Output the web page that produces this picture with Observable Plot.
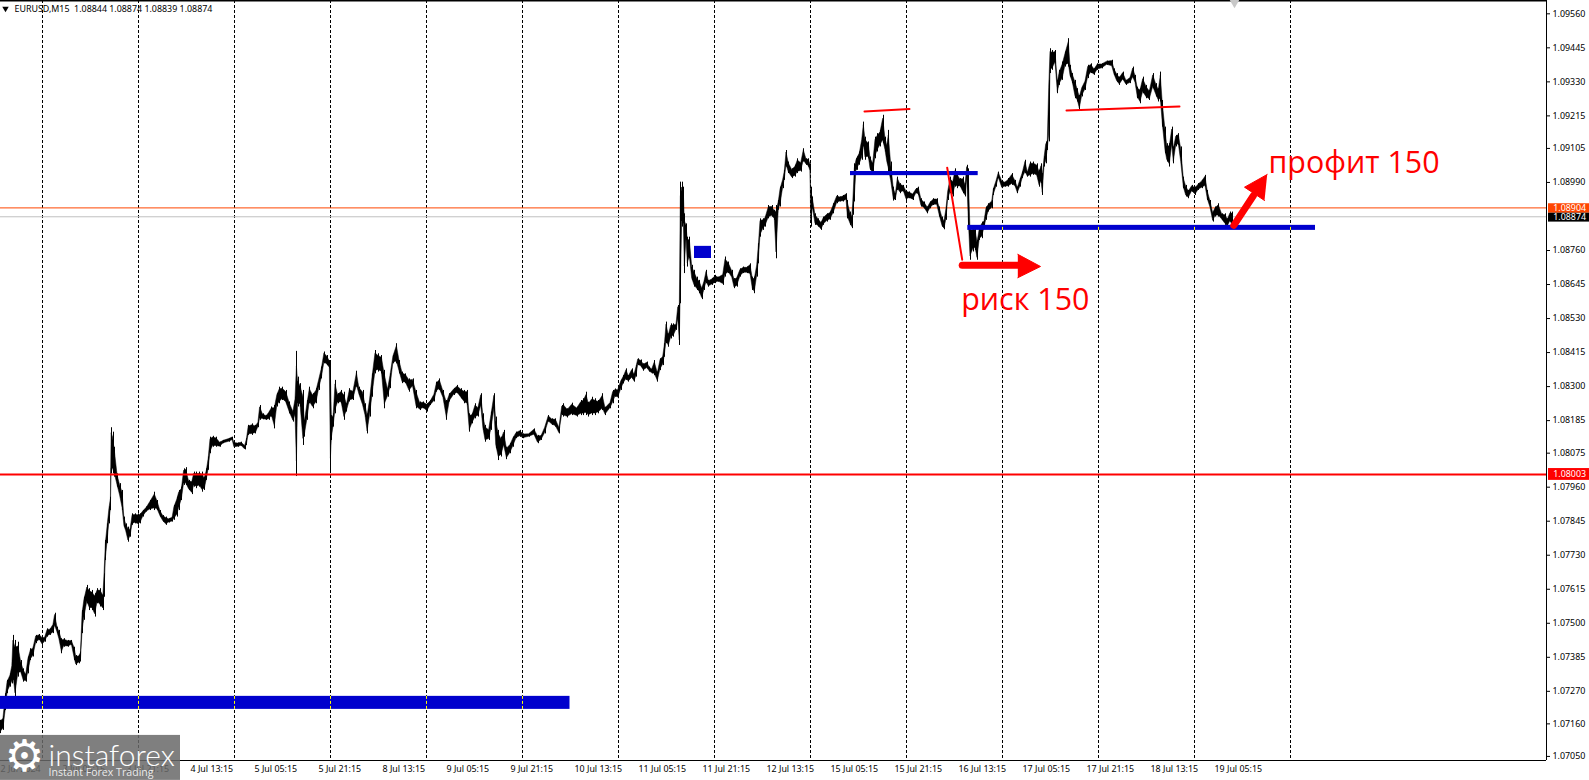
<!DOCTYPE html>
<html><head><meta charset="utf-8">
<style>html,body{margin:0;padding:0;background:#fff;overflow:hidden}svg{display:block}</style>
<script src="https://cdn.jsdelivr.net/npm/d3@7"></script>
<script src="https://cdn.jsdelivr.net/npm/@observablehq/plot@0.6"></script>
</head><body>
<div id="chart"></div>
<script>
// Price envelope, 15-minute bars counted from the left edge; prices in 1e-5 units
const bars1=[0,2.9,5.4,7.1,10,11.8,12.9,15,17.9,20.7,23.2,25.7,27.9,30.4,32.9,35.7,39.3,42.1,44.6,47.1,50,52.9,54.6,57.1,58.9,61.4,63.6,67.9,71.4,74.3,75.7,78.6,80.4,82.1,83.9,86.8,89.3,92.1,94.6,97.1,100,102.9,103.9,105.4,107.1,108.9,110.4,111.1,112.5,114.3,117.1,119.6,122.1,123.9,125.7,127.9,130,132.1,135,137.5,140,142.9,146.4,150,154.3,157.1,160,162.9,165.7,168.6,172.1,173.9,176.8,178.6,181.4,183.6,185.7,188.6,191.8,193.6,196.4,199.3,201.8,204.3,206.4,208.2,210,212.5,216.1,219.6,223.2,228.6,232.1,233.9,237.5,241.1,244.6,246.4,248.2,251.8,255.4,257.9,259.6,262.5,266.1,268.6,271.4,274.3,276.8,279.3,282.1,285.7,289.3,292.9,295,296.4,297.5,300,302.9,304.3,307.1,309.3,312.5,316.1,318.6,321.4,323.9,326.8,329.3,330.4,331.4,333.2,335,337.5,341.1,343.9,346.4,349.3,352.9,356.4,358.9,362.5,365,367.1,369.6,372.1,375,377.9,381.4,384.3,387.5,390,392.9,396.4,399.3,402.1,405.4,408.9,412.5,416.1,419.6,423.2,426.8,430.4,433.9,436.4,439.3,442.9,446.4,449.3,453.6,457.1,460.7,464.3,467.1,469.3,472.1,475,477.9,480.7,482.9,485,488.6,491.1,493.9,495.7,498.2,501.1,503.6,506.4,510,512.9,516.1,519.6,523.2,528.6,533.9,537.5,541.1,544.6,548.2,551.8,555.4,558.9];
const highs1=[107172,107183,107262,107307,107329,107363,107459,107442,107436,107374,107346,107329,107386,107414,107419,107459,107462,107453,107453,107481,107481,107498,107534,107487,107476,107448,107448,107442,107442,107419,107391,107391,107403,107543,107588,107628,107617,107611,107600,107617,107617,107600,107667,107780,107836,107893,107926,108161,108146,108095,108005,107972,107949,107859,107836,107825,107819,107870,107870,107870,107870,107881,107893,107915,107943,107915,107881,107864,107859,107853,107859,107898,107926,107949,107960,108022,108026,107983,107983,108011,108011,108011,108011,107994,108022,108062,108129,108132,108129,108112,108118,108124,108129,108112,108109,108112,108101,108124,108169,108174,108169,108180,108236,108208,108202,108214,108231,108236,108276,108298,108298,108287,108248,108219,108264,108419,108332,108310,108287,108186,108253,108298,108276,108293,108326,108366,108417,108405,108388,108388,108202,108208,108321,108276,108287,108281,108242,108293,108287,108352,108298,108287,108242,108208,108264,108343,108422,108411,108405,108355,108293,108343,108405,108445,108388,108349,108343,108326,108326,108287,108248,108248,108242,108253,108276,108315,108326,108287,108253,108276,108293,108304,108293,108287,108287,108208,108208,108242,108231,108276,108208,108169,108157,108214,108276,108197,108152,108129,108152,108095,108107,108129,108146,108152,108140,108140,108157,108135,108135,108163,108202,108191,108191,108163];
const lows1=[107127,107138,107205,107262,107284,107295,107307,107239,107318,107329,107301,107301,107329,107374,107386,107431,107442,107425,107436,107453,107459,107465,107487,107465,107442,107397,107419,107419,107425,107374,107357,107363,107369,107465,107510,107566,107543,107543,107521,107566,107555,107543,107588,107712,107769,107836,107881,108005,108005,107994,107960,107926,107881,107825,107808,107774,107791,107831,107836,107831,107836,107859,107876,107881,107881,107881,107859,107842,107831,107839,107842,107848,107859,107881,107915,107966,107966,107949,107935,107960,107955,107960,107943,107949,107983,108017,108073,108095,108095,108095,108107,108112,108118,108093,108095,108098,108086,108101,108135,108135,108140,108161,108186,108188,108186,108186,108197,108157,108231,108242,108253,108242,108208,108180,108197,107996,108231,108231,108101,108129,108186,108242,108225,108242,108287,108326,108377,108371,108360,108011,108118,108163,108208,108242,108242,108186,108214,108248,108253,108298,108270,108231,108197,108140,108197,108264,108343,108349,108343,108225,108264,108293,108377,108377,108343,108310,108310,108281,108298,108225,108219,108225,108214,108236,108248,108281,108287,108259,108186,108248,108270,108276,108259,108242,108236,108146,108174,108191,108197,108231,108152,108112,108118,108152,108219,108090,108050,108062,108095,108053,108073,108095,108124,108129,108124,108129,108135,108107,108118,108140,108180,108169,108163,108140];

const bars2=[561.7,563.3,567.3,571.7,576.7,580.7,583.3,586,588.3,591.7,595,598.3,602.3,605,610,612.7,615,617.7,620.7,623.3,626,628.3,631.7,634,636,637.7,640.7,643.3,646.7,649.3,651.7,654.3,657.3,660,662.7,664.3,666,668.3,670.7,673.3,676,677.7,679.3];
const highs2=[108236,108242,108225,108244,108230,108253,108259,108281,108247,108264,108259,108253,108276,108230,108247,108287,108292,108292,108321,108337,108360,108337,108360,108343,108371,108394,108390,108377,108383,108366,108360,108388,108349,108394,108405,108445,108518,108478,108512,108512,108512,108574,108580];
const lows2=[108202,108197,108194,108202,108197,108202,108202,108202,108197,108202,108202,108208,108219,108202,108225,108242,108264,108259,108287,108309,108321,108315,108326,108315,108332,108371,108366,108352,108360,108349,108343,108337,108315,108354,108371,108399,108445,108433,108461,108467,108490,108523,108439];

const bars3=[680.3,681.7,683.3,684.3,686,687.3,689.3,691.7,694,696.7,699.3,701.7,704,706,708.3,711.7,715,718.3,722.7,725,728.3,731.7,734,736.7,740,743.3,746.7,750,752.3,754.3,756.7,758.3,760,762.7,765,768.3,771.7,774.3,776,778.3,780,782.7,784.3,786,788.3,791.7,795,797.3,800.7,803.3,806,808.3,810,810.7,812.3,815,818.3,821,823.3,826.7,830,833.3,836.7,840,843.3,846,847.3,850,851.7,852.7,854.3,856];
const highs3=[108991,108991,108974,108884,108850,108805,108805,108710,108693,108670,108659,108636,108659,108693,108659,108665,108676,108670,108682,108738,108721,108693,108665,108670,108698,108704,108704,108715,108670,108670,108715,108783,108867,108867,108873,108912,108912,108896,108912,108929,108974,109003,109031,109098,109059,109036,109048,109070,109059,109104,109070,109070,109053,108974,108941,108884,108867,108856,108873,108884,108890,108918,108946,108941,108946,108952,108929,108890,108879,108924,109053,109070];
const lows3=[108580,108839,108850,108682,108794,108704,108732,108659,108636,108625,108614,108594,108625,108648,108636,108642,108648,108653,108642,108670,108682,108665,108631,108636,108670,108682,108682,108676,108625,108614,108670,108715,108805,108828,108839,108867,108873,108862,108732,108896,108907,108969,108997,109042,109020,109003,109008,109020,109025,109059,109048,109042,109025,108839,108901,108845,108839,108828,108845,108856,108862,108884,108918,108924,108924,108929,108867,108845,108834,108879,108924,109031];

const bars4=[856.7,859.3,861.7,863.3,865,868.3,870,872.7,875,877.3,880,882.7,885,886.7,888.3,890.7,893.3,895.3,897.3,900,903.3,906,909.3,912.7,916,918.3,921,924,927.3,930,933.3,936.7,939.3,942,944,946,947.7,950,952.7,955,957.3,960,962.7,965,966.7,968.3,970,972.7,975,977,979.3,981.7,984,986,988.3,991.7,993.3,996,998.3,1001.7,1005,1008.3,1011.7,1015,1017.3,1020,1022.3,1025,1027.3,1030,1033.3,1036.7,1039,1041,1042.3,1044,1045.7,1047.3,1048.7];
const highs4=[109076,109093,109143,109194,109143,109127,109076,109059,109143,109155,109166,109217,109143,109121,109166,109059,108974,108952,109008,108986,108980,108963,108958,108952,108969,108974,108935,108924,108907,108924,108935,108935,108907,108873,108862,108907,108963,109008,108997,109036,109020,109003,109008,108986,109048,109036,108839,108839,108839,108794,108839,108856,108862,108907,108918,108929,108969,108997,109025,108997,108991,109003,109020,108997,108974,109003,109025,109065,109025,109059,109059,109053,109031,109053,109020,109076,109127,109132,109335];
const lows4=[109031,109048,109065,109110,109065,109070,109031,109014,109070,109093,109110,109121,109093,109053,109020,108986,108927,108929,108963,108952,108958,108929,108935,108929,108952,108946,108907,108901,108884,108901,108912,108912,108873,108839,108830,108862,108929,108952,108941,108974,108969,108974,108952,108941,108997,108839,108727,108755,108760,108727,108794,108800,108834,108862,108890,108901,108946,108974,109003,108969,108974,108974,108980,108974,108952,108974,109003,109020,109008,109008,109014,109008,108974,108986,108946,109042,109053,109098,109127];

const bars5=[1050,1052.3,1055,1057.3,1059.3,1062.3,1065,1068.3,1070,1072.3,1075,1077.3,1079.3,1081.7,1085,1087.7,1090.7,1094,1097.3,1101.7,1106.7,1111.7,1114,1116.7,1119.3,1122.7,1126,1130,1132.7,1135,1137.3,1140,1142.7,1146,1149.3,1152.7,1156,1158.3,1160.3,1162.3,1165,1166.7,1169.3,1171.7,1173.3,1175.7,1178.3,1180.7,1183.3,1185.7,1188.3,1191.7,1195,1198.3,1201.7,1205,1207.3,1210,1212.7,1215,1218.3,1221.7,1225,1227.3,1230,1232];
const highs5=[109442,109436,109436,109335,109369,109397,109431,109476,109386,109358,109335,109307,109284,109312,109335,109386,109391,109374,109391,109391,109400,109403,109374,109358,109346,109363,109335,109346,109380,109352,109312,109307,109346,109318,109301,109358,109324,109307,109363,109267,109177,109121,109121,109177,109110,109149,109155,109110,109008,108980,108963,108980,108974,108986,108997,109014,108963,108929,108890,108907,108918,108884,108884,108867,108890,108890];
const lows5=[109358,109369,109391,109290,109318,109335,109380,109380,109346,109324,109273,109262,109234,109279,109301,109341,109358,109352,109369,109374,109386,109380,109352,109329,109318,109335,109318,109324,109341,109324,109273,109256,109290,109273,109267,109307,109279,109262,109262,109177,109087,109059,109042,109110,109053,109110,109115,109053,108969,108941,108935,108958,108946,108963,108969,108974,108929,108901,108856,108873,108873,108862,108845,108839,108856,108839];

// Price levels
const bidPrice=1.08874, levelOrange=1.08904, levelRed=1.08003;
// Right axis ticks
const priceTicks=[1.0956,1.09445,1.0933,1.09215,1.09105,1.0899,1.0876,1.08645,1.0853,1.08415,1.083,1.08185,1.08075,1.0796,1.07845,1.0773,1.07615,1.075,1.07385,1.0727,1.0716,1.0705];
// Time axis labels and the bar each one starts on
const timeBars=[0,62,126,190,254,318,382,446,510,574,638,702,766,830,894,958,1022,1086,1150,1214];
const timeLabels=["2 Jul 2024","3 Jul 05:15","3 Jul 21:15","4 Jul 13:15","5 Jul 05:15","5 Jul 21:15","8 Jul 13:15","9 Jul 05:15","9 Jul 21:15","10 Jul 13:15","11 Jul 05:15","11 Jul 21:15","12 Jul 13:15","15 Jul 05:15","15 Jul 21:15","16 Jul 13:15","17 Jul 05:15","17 Jul 21:15","18 Jul 13:15","19 Jul 05:15"];
// Day separators
const dayBars=[42,138,234,330,426,522,618,714,810,906,1002,1098,1194,1290];
// Drawn objects: blue zones [bar1, bar2, priceLow, priceHigh]
const zoneBar1=[0,694,850,967.3], zoneBar2=[569.5,711,977.7,1315];
const zoneLow=[1.07209,1.08733,1.09013,1.08828], zoneHigh=[1.07253,1.08774,1.09027,1.08845];
// thin red trend lines
const trend1={x:[864,909],y:[1.0923,1.09238]};
const trend2={x:[1066,1179],y:[1.09233,1.09247]};
const trend3={x:[946.7,961.7],y:[1.0904,1.08729]};
// fat arrows
const arrowShaftA={x:[961.7,1018],y:[1.0871,1.0871]};
const arrowHeadA={x:[1017.3,1040,1017.3],y:[1.08747,1.08706,1.08668]};
const arrowShaftB={x:[1233.3,1253],y:[1.08845,1.08946]};
const arrowHeadB={x:[1266.7,1244,1264],y:[1.09017,1.08974,1.08929]};
const notes=[{x:960.7,y:1.08559,t:"риск 150"},{x:1268,y:1.09021,t:"профит 150"}];
const header="EURUSD,M15  1.08844 1.08874 1.08839 1.08874";
const tagBoxes=[{y1:1.08886,y2:1.08918,fill:"#ff4500"},{y1:1.08856,y2:1.08886,fill:"#000"},{y1:1.07983,y2:1.08023,fill:"#f00"}];
const tagTexts=[{y:levelOrange,t:"1.08904",fill:"#fff"},{y:bidPrice,t:"1.08874",fill:"#fff"},{y:levelRed,t:"1.08003",fill:"#fff"}];

const zip=(b,h,l)=>b.map((x,i)=>({x,high:h[i]/1e5,low:l[i]/1e5}));
const series=[...zip(bars1,highs1,lows1),...zip(bars2,highs2,lows2),...zip(bars3,highs3,lows3),...zip(bars4,highs4,lows4),...zip(bars5,highs5,lows5)];
const pts=o=>o.x.map((x,i)=>({x,y:o.y[i]}));
const zones=zoneBar1.map((x1,i)=>({x1,x2:zoneBar2[i],y1:zoneLow[i],y2:zoneHigh[i]}));
const uiFont="'Noto Sans'", uiSize=8.9;
const redLine=(o,w)=>Plot.line(pts(o),{x:"x",y:"y",stroke:"#f00",strokeWidth:w,strokeLinecap:"round"});
const head=o=>Plot.line(pts(o),{x:"x",y:"y",fill:"#f00",stroke:"#f00",strokeWidth:1});

const chart=Plot.plot({
  width:1589,height:780,marginLeft:0,marginRight:43,marginTop:0,marginBottom:20,
  style:{fontFamily:uiFont,fontSize:uiSize+"px",background:"#fff",overflow:"visible"},
  x:{type:"linear",domain:[0,1546],range:[0,1546]},
  y:{type:"linear",domain:[1.070362,1.09605],range:[760,0]},
  marks:[
    Plot.ruleX(dayBars,{stroke:"#000",strokeWidth:1,strokeDasharray:"3,2"}),
    Plot.ruleY([bidPrice],{stroke:"#c0c0c0",strokeWidth:1}),
    Plot.ruleY([levelOrange],{stroke:"#ff4500",strokeWidth:1}),
    Plot.area(series,{x1:"x",y1:d=>d.low*.88+d.high*.12,y2:d=>d.low*.12+d.high*.88,fill:"#000",stroke:"#000",strokeWidth:0.5}),
    Plot.ruleX(series,{x:d=>Math.round(d.x),y1:"low",y2:"high",stroke:"#000",strokeWidth:1}),
    Plot.ruleY([levelRed],{stroke:"#f00",strokeWidth:2}),
    Plot.rect(zones,{x1:"x1",x2:"x2",y1:"y1",y2:"y2",fill:"#0000cd"}),
    Plot.ruleX(dayBars.filter(d=>d<zoneBar2[0]),{y1:zoneLow[0],y2:zoneHigh[0],stroke:"#ff0",strokeDasharray:"3,2"}),
    Plot.ruleX(dayBars.filter(d=>d>zoneBar1[3]&&d<zoneBar2[3]),{y1:zoneLow[3],y2:zoneHigh[3],stroke:"#ff0",strokeDasharray:"3,2"}),
    redLine(trend1,2),redLine(trend2,2),redLine(trend3,2),
    redLine(arrowShaftA,7),head(arrowHeadA),
    redLine(arrowShaftB,7),head(arrowHeadB),
    Plot.text(notes,{x:"x",y:"y",text:"t",fill:"#f00",fontSize:30.4,fontFamily:"'Open Sans'",textAnchor:"start",lineAnchor:"bottom"}),
    // frame
    Plot.ruleY([1.09605],{stroke:"#000",strokeWidth:2}),
    Plot.ruleY([1.070362],{stroke:"#000",strokeWidth:1}),
    Plot.ruleX([1546],{stroke:"#000",strokeWidth:1,y1:1.09605,y2:1.070362}),
    Plot.axisX({ticks:timeBars,tickFormat:(d,i)=>timeLabels[timeBars.indexOf(d)],tickSize:0,tickPadding:5,textAnchor:"start",label:null,fontSize:uiSize,fill:"#000"}),
    Plot.axisY({anchor:"right",ticks:priceTicks,tickFormat:d3.format(".5f"),tickSize:3,tickPadding:3,label:null,fontSize:uiSize,fill:"#000"}),
    // price tags
    Plot.rect(tagBoxes,{x1:()=>1548,x2:()=>1589,y1:"y1",y2:"y2",fill:"fill"}),
    Plot.text(tagTexts,{x:()=>1552.7,y:"y",text:"t",fill:"fill",textAnchor:"start",fontSize:uiSize}),
    // header
    Plot.dot([0],{frameAnchor:"top-left",dx:5,dy:8,r:2.4,symbol:"triangle",rotate:180,fill:"#000",stroke:"none"}),
    Plot.text([header],{frameAnchor:"top-left",dx:14,dy:9,text:d=>d,textAnchor:"start",lineAnchor:"middle",fontSize:uiSize,fill:"#000"}),
    Plot.dot([0],{frameAnchor:"top-left",dx:1234,dy:0,r:5,symbol:"triangle",rotate:180,fill:"#c8c8c8",stroke:"none"}),
    // watermark
    Plot.rect([{}],{x1:()=>0,x2:()=>180,y1:()=>1.07121,y2:()=>1.06969,fill:"#696969",fillOpacity:0.85}),
    Plot.text(["⚙"],{frameAnchor:"top-left",dx:24,dy:756,text:d=>d,fill:"#fff",fontSize:44,fontFamily:"'DejaVu Sans'",textAnchor:"middle",lineAnchor:"middle"}),
    Plot.text(["instaforex"],{frameAnchor:"top-left",dx:48,dy:765,text:d=>d,fill:"#fff",fontSize:30,fontWeight:300,fontFamily:"Lato",textAnchor:"start",lineAnchor:"bottom"}),
    Plot.text(["Instant Forex Trading"],{frameAnchor:"top-left",dx:48,dy:775,text:d=>d,fill:"#fff",fillOpacity:0.85,fontSize:10.6,fontFamily:"'Open Sans'",textAnchor:"start",lineAnchor:"bottom"})
  ]
});
document.getElementById("chart").append(chart);
</script>
</body></html>
